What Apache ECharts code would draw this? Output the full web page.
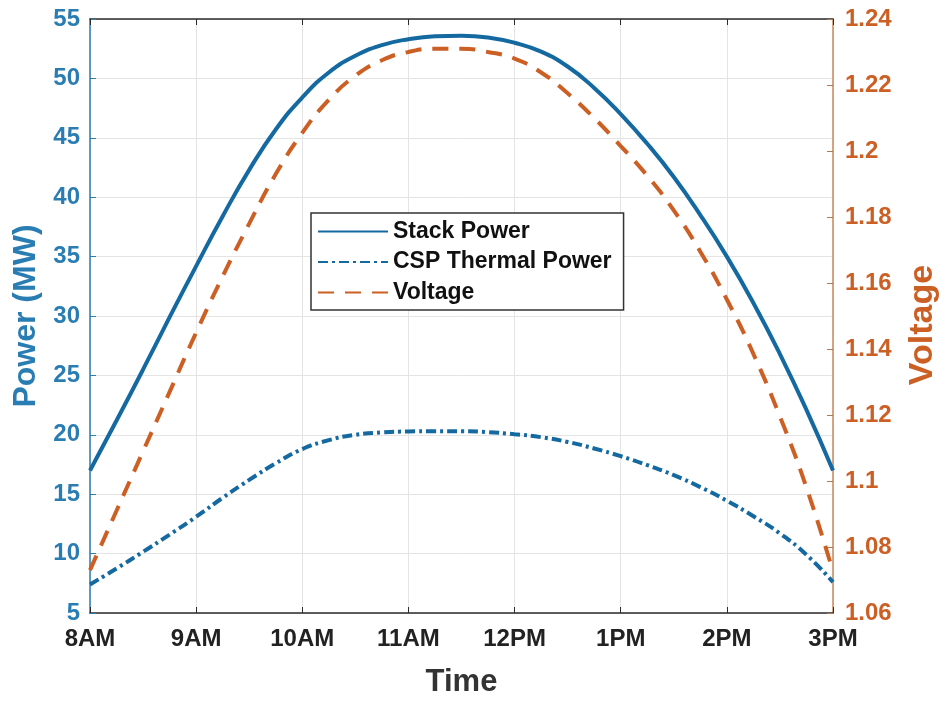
<!DOCTYPE html>
<html>
<head>
<meta charset="utf-8">
<script src="https://cdn.jsdelivr.net/npm/echarts@6/dist/echarts.min.js"></script>
<style>
  html, body { margin: 0; padding: 0; background: #fff; overflow: hidden; }
  #chart { width: 948px; height: 703px; }
</style>
</head>
<body>
<div id="chart"></div>
<script>
// time in hours (8 = 8AM, 15 = 3PM)
var hours = [8, 8.25, 8.5, 8.75, 9, 9.25, 9.5, 9.75, 10, 10.25, 10.5, 10.75, 11, 11.25, 11.5,
  11.75, 12, 12.25, 12.5, 12.75, 13, 13.25, 13.5, 13.75, 14, 14.25, 14.5, 14.75, 15];
var stackPower = [17.0, 21.2, 25.5, 29.9, 34.2, 38.4, 42.3, 45.7, 48.4, 50.5, 51.9, 52.8, 53.3, 53.55, 53.6,
  53.45, 53.0, 52.25, 51.0, 49.2, 47.0, 44.5, 41.7, 38.5, 35.0, 31.1, 26.8, 22.1, 17.0];
var cspPower = [7.4, 8.75, 10.15, 11.6, 13.1, 14.7, 16.2, 17.6, 18.8, 19.55, 20.0, 20.2, 20.28, 20.3, 20.3,
  20.22, 20.05, 19.8, 19.4, 18.85, 18.2, 17.45, 16.6, 15.6, 14.45, 13.15, 11.7, 9.9, 7.6];
var voltage = [1.073, 1.091, 1.109, 1.127, 1.145, 1.162, 1.178, 1.193, 1.2055, 1.2155, 1.2228, 1.2275, 1.2300, 1.2310, 1.2310,
  1.2300, 1.2280, 1.2238, 1.2175, 1.2100, 1.2015, 1.1925, 1.1820, 1.1695, 1.1550, 1.1385, 1.1195, 1.0980, 1.0725];
var timeLabels = ['8AM', '9AM', '10AM', '11AM', '12PM', '1PM', '2PM', '3PM'];

var blue = '#1469a0';
var blueText = '#2a7db3';
var orange = '#cc5f24';
var font = 'Liberation Sans';

function pairs(ys) {
  return hours.map(function (h, i) { return [h, ys[i]]; });
}

var myChart = echarts.init(document.getElementById('chart'));
var option = {
  backgroundColor: '#fff',
  animation: false,
  textStyle: { fontFamily: font },
  grid: { left: 90, right: 108, top: 19, bottom: 83, containLabel: false },
  legend: {
    left: 311, top: 213,
    orient: 'vertical',
    backgroundColor: '#fff',
    borderColor: '#333',
    borderWidth: 1.5,
    borderRadius: 0,
    padding: [7, 12, 6, 6],
    itemWidth: 70, itemHeight: 14,
    itemGap: 7.5,
    itemStyle: { opacity: 0 },
    textStyle: { fontFamily: font, fontWeight: 'bold', fontSize: 23, lineHeight: 22, color: '#111' },
    data: ['Stack Power', 'CSP Thermal Power', 'Voltage']
  },
  xAxis: [{
    type: 'value', min: 8, max: 15, interval: 1,
    name: 'Time', nameLocation: 'middle', nameGap: 54,
    nameTextStyle: { fontFamily: font, fontWeight: 'bold', fontSize: 31, color: '#333' },
    axisLine: { show: true, lineStyle: { color: '#2b2b2b', width: 1.5 } },
    axisTick: { show: true, inside: true, length: 6, lineStyle: { color: '#2b2b2b' } },
    axisLabel: {
      margin: 14, fontFamily: font, fontWeight: 'bold', fontSize: 24, color: '#222',
      formatter: function (v) { return timeLabels[Math.round(v - 8)]; }
    },
    splitLine: { show: true, lineStyle: { color: '#e4e4e4', width: 1 } }
  }, {
    type: 'value', min: 8, max: 15, interval: 1, position: 'top',
    axisLine: { show: true, lineStyle: { color: '#2b2b2b', width: 1.5 } },
    axisTick: { show: true, inside: true, length: 6, lineStyle: { color: '#2b2b2b' } },
    axisLabel: { show: false },
    splitLine: { show: false }
  }],
  yAxis: [{
    type: 'value', min: 5, max: 55, interval: 5, position: 'left',
    name: 'Power (MW)', nameLocation: 'middle', nameGap: 45,
    nameTextStyle: { fontFamily: font, fontWeight: 'bold', fontSize: 32, color: blueText },
    axisLine: { show: true, lineStyle: { color: blueText, width: 1.5 } },
    axisTick: { show: true, inside: true, length: 6, lineStyle: { color: blueText } },
    axisLabel: { margin: 10, fontFamily: font, fontWeight: 'bold', fontSize: 24, color: blueText },
    splitLine: { show: true, lineStyle: { color: '#e4e4e4', width: 1 } }
  }, {
    type: 'value', min: 1.06, max: 1.24, interval: 0.02, position: 'right',
    name: 'Voltage', nameLocation: 'middle', nameGap: 73, nameRotate: 90,
    nameTextStyle: { fontFamily: font, fontWeight: 'bold', fontSize: 34, color: orange, padding: [0, 18, 0, 0] },
    axisLine: { show: true, lineStyle: { color: '#c88a5e', width: 1.5 } },
    axisTick: { show: true, inside: true, length: 6, lineStyle: { color: '#b07a50' } },
    axisLabel: {
      margin: 12, fontFamily: font, fontWeight: 'bold', fontSize: 24, color: orange,
      formatter: function (v) { return String(parseFloat(v.toFixed(2))); }
    },
    splitLine: { show: false }
  }],
  series: [{
    name: 'Stack Power', type: 'line', xAxisIndex: 0, yAxisIndex: 0,
    smooth: true, symbol: 'none', z: 3,
    lineStyle: { color: blue, width: 4 },
    itemStyle: { color: blue },
    data: pairs(stackPower)
  }, {
    name: 'CSP Thermal Power', type: 'line', xAxisIndex: 0, yAxisIndex: 0,
    smooth: true, symbol: 'none', z: 3,
    lineStyle: { color: blue, width: 4, type: [10, 4, 3, 4] },
    itemStyle: { color: blue },
    data: pairs(cspPower)
  }, {
    name: 'Voltage', type: 'line', xAxisIndex: 0, yAxisIndex: 1,
    smooth: true, symbol: 'none', z: 2,
    lineStyle: { color: orange, width: 4, type: [16, 11] },
    itemStyle: { color: orange },
    data: pairs(voltage)
  }]
};
myChart.setOption(option);
</script>
</body>
</html>
